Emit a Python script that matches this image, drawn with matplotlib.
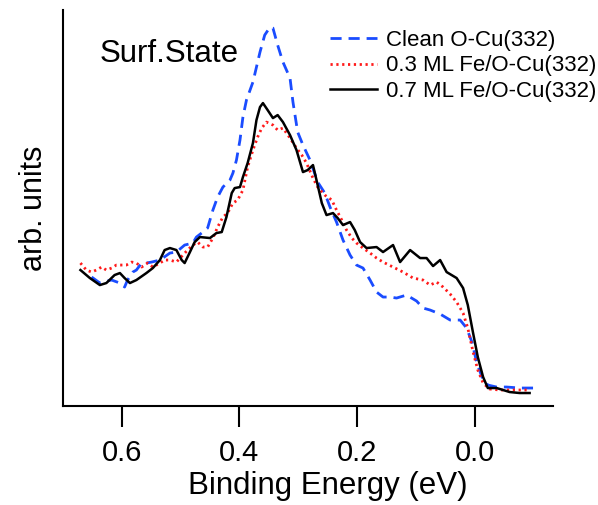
import numpy as np
import matplotlib.pyplot as plt

plt.rcParams['font.family'] = ['Liberation Sans', 'DejaVu Sans']

# Clean O-Cu(332)
e_clean = [0.651, 0.637, 0.632, 0.617, 0.603, 0.595, 0.590, 0.581, 0.575, 0.566,
           0.558, 0.549, 0.535, 0.518, 0.507, 0.493, 0.479, 0.473, 0.462, 0.454,
           0.445, 0.437, 0.428, 0.416, 0.411, 0.405, 0.399, 0.394, 0.388, 0.377,
           0.365, 0.357, 0.348, 0.343, 0.335, 0.326, 0.314, 0.309, 0.301, 0.292,
           0.280, 0.267, 0.255, 0.246, 0.235, 0.224, 0.212, 0.201, 0.190, 0.178,
           0.167, 0.156, 0.144, 0.133, 0.116, 0.099, 0.088, 0.076, 0.059, 0.042,
           0.025, 0.014, 0.005, -0.003, -0.012, -0.022, -0.037, -0.054, -0.076, -0.107]
i_clean = [1.29, 1.23, 1.24, 1.26, 1.23, 1.19, 1.26, 1.34, 1.36, 1.43,
           1.43, 1.44, 1.46, 1.53, 1.54, 1.61, 1.63, 1.69, 1.74, 1.78,
           1.96, 2.09, 2.19, 2.26, 2.33, 2.46, 2.66, 2.89, 3.06, 3.24,
           3.54, 3.71, 3.79, 3.78, 3.61, 3.44, 3.28, 3.04, 2.74, 2.61,
           2.46, 2.24, 2.13, 1.99, 1.84, 1.66, 1.51, 1.41, 1.38, 1.26,
           1.14, 1.09, 1.09, 1.08, 1.11, 1.05, 0.98, 0.96, 0.92, 0.86,
           0.86, 0.78, 0.64, 0.44, 0.29, 0.21, 0.19, 0.19, 0.18, 0.18]

# 0.3 ML Fe/O-Cu(332)
e_03 = [0.670, 0.660, 0.651, 0.643, 0.634, 0.626, 0.617, 0.609, 0.600, 0.592,
        0.583, 0.575, 0.566, 0.556, 0.547, 0.535, 0.527, 0.518, 0.507, 0.496,
        0.488, 0.479, 0.471, 0.462, 0.454, 0.445, 0.437, 0.428, 0.420, 0.411,
        0.403, 0.394, 0.386, 0.377, 0.369, 0.362, 0.354, 0.343, 0.335, 0.326,
        0.314, 0.303, 0.294, 0.286, 0.275, 0.267, 0.255, 0.243, 0.235, 0.226,
        0.218, 0.209, 0.201, 0.190, 0.178, 0.167, 0.156, 0.139, 0.122, 0.105,
        0.088, 0.076, 0.065, 0.054, 0.042, 0.031, 0.020, 0.012, 0.003, -0.005,
        -0.014, -0.025, -0.042, -0.065, -0.088]
i_03 = [1.43, 1.36, 1.34, 1.36, 1.39, 1.36, 1.38, 1.41, 1.41, 1.41,
        1.44, 1.43, 1.39, 1.43, 1.39, 1.43, 1.46, 1.46, 1.44, 1.51,
        1.56, 1.61, 1.64, 1.59, 1.59, 1.68, 1.79, 1.89, 1.93, 2.03,
        2.06, 2.16, 2.39, 2.56, 2.69, 2.78, 2.84, 2.81, 2.76, 2.78,
        2.68, 2.58, 2.51, 2.43, 2.28, 2.19, 2.11, 2.06, 1.96, 1.86,
        1.76, 1.68, 1.63, 1.58, 1.53, 1.48, 1.44, 1.39, 1.34, 1.28,
        1.26, 1.21, 1.24, 1.19, 1.12, 1.04, 0.93, 0.78, 0.54, 0.36,
        0.23, 0.17, 0.16, 0.16, 0.16]

# 0.7 ML Fe/O-Cu(332)
e_07 = [0.670, 0.654, 0.637, 0.626, 0.612, 0.603, 0.595, 0.586, 0.575, 0.558,
        0.547, 0.535, 0.527, 0.518, 0.507, 0.498, 0.493, 0.484, 0.476, 0.467,
        0.450, 0.439, 0.430, 0.422, 0.413, 0.408, 0.399, 0.394, 0.386, 0.377,
        0.371, 0.365, 0.360, 0.352, 0.343, 0.335, 0.326, 0.314, 0.303, 0.292,
        0.284, 0.275, 0.269, 0.260, 0.252, 0.241, 0.233, 0.224, 0.212, 0.204,
        0.195, 0.184, 0.167, 0.156, 0.139, 0.127, 0.110, 0.093, 0.082, 0.071,
        0.059, 0.048, 0.031, 0.020, 0.012, 0.003, -0.005, -0.014, -0.022, -0.037,
        -0.048, -0.059, -0.076, -0.093]
i_07 = [1.36, 1.28, 1.21, 1.23, 1.31, 1.33, 1.28, 1.23, 1.26, 1.33,
        1.38, 1.46, 1.56, 1.58, 1.56, 1.46, 1.43, 1.54, 1.64, 1.69,
        1.68, 1.73, 1.74, 1.89, 2.13, 2.18, 2.19, 2.29, 2.43, 2.63,
        2.86, 2.99, 3.03, 2.96, 2.88, 2.91, 2.84, 2.71, 2.56, 2.34,
        2.36, 2.41, 2.26, 2.03, 1.91, 1.93, 1.88, 1.81, 1.84, 1.76,
        1.64, 1.58, 1.59, 1.54, 1.61, 1.44, 1.56, 1.48, 1.48, 1.40,
        1.46, 1.34, 1.28, 1.18, 1.01, 0.73, 0.49, 0.29, 0.18, 0.18,
        0.16, 0.14, 0.13, 0.13]

fig = plt.figure(figsize=(5.98, 5.05), dpi=100)
ax = fig.add_axes([0.105, 0.196, 0.82, 0.784])

ax.plot(e_clean, i_clean, color="#1a4cff", lw=2, linestyle=(0, (4, 2.5)), label="Clean O-Cu(332)")
ax.plot(e_03, i_03, color="#ff1a1a", lw=2, linestyle=(0, (0.8, 1.3)), label="0.3 ML Fe/O-Cu(332)")
ax.plot(e_07, i_07, color="black", lw=1.8, label="0.7 ML Fe/O-Cu(332)")

ax.set_xlim(0.70, -0.133)
ax.set_ylim(0, 3.96)
ax.spines["top"].set_visible(False)
ax.spines["right"].set_visible(False)
ax.spines["left"].set_linewidth(1.5)
ax.spines["bottom"].set_linewidth(1.5)
ax.set_xticks([0.6, 0.4, 0.2, 0.0])
ax.set_xticklabels(["0.6", "0.4", "0.2", "0.0"])
ax.set_yticks([])
ax.tick_params(axis="x", direction="out", length=15, width=1.5, labelsize=21, pad=9)
ax.set_xlabel("Binding Energy (eV)", fontsize=22.5)
ax.xaxis.set_label_coords(0.541, -0.165)
ax.set_ylabel("arb. units", fontsize=22, labelpad=10)

ax.text(100 / 598, 1 - 62 / 505, "Surf.State", transform=fig.transFigure, fontsize=22.5)

ax.legend(loc="upper left", bbox_to_anchor=(330 / 598, 1 - 30 / 505),
          bbox_transform=fig.transFigure, frameon=False, fontsize=16,
          handlelength=2.1, handletextpad=0.4, labelspacing=0.2,
          borderpad=0, borderaxespad=0)

fig.savefig("out.png", dpi=100)
